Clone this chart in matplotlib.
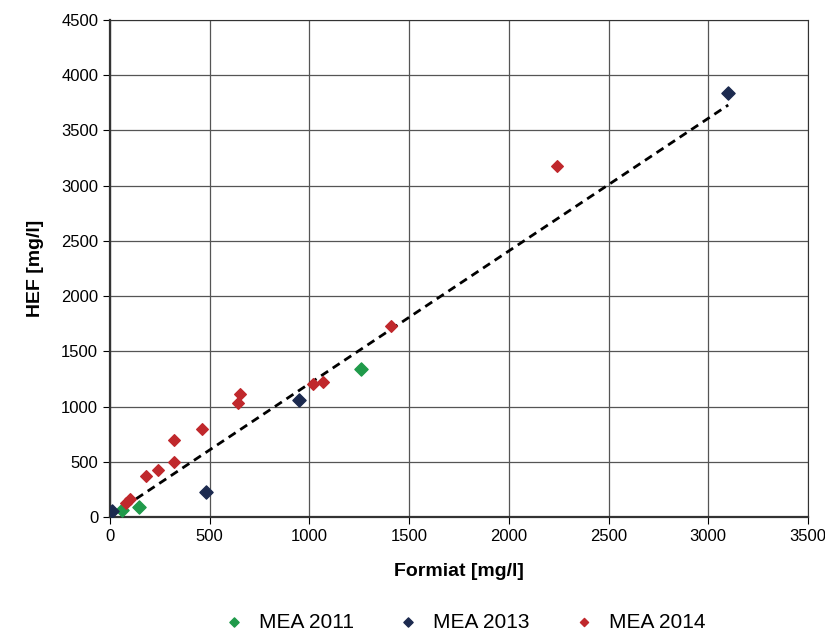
import numpy as np
import matplotlib
matplotlib.use("Agg")
import matplotlib.pyplot as plt

plt.rcParams['font.family'] = ['Liberation Sans', 'DejaVu Sans']

# data
x_2011 = [60, 145, 1258]
y_2011 = [65, 95, 1340]
x_2013 = [10, 480, 950, 3100]
y_2013 = [50, 230, 1060, 3840]
x_2014 = [80, 100, 180, 240, 320, 320, 460, 640, 650, 1020, 1070, 1410, 2240]
y_2014 = [130, 160, 370, 430, 500, 700, 800, 1030, 1110, 1200, 1220, 1730, 3180]

# trend line end points
trend_x = [15, 3100]
trend_y = [25, 3730]

fig = plt.figure(figsize=(8.25, 6.33), dpi=100)
ax = fig.add_axes([110/825, 1 - 517/633, 698/825, 497/633])

ax.scatter(x_2011, y_2011, marker='D', s=45, color='#1f9a4a', label='MEA 2011', zorder=3)
ax.scatter(x_2013, y_2013, marker='D', s=45, color='#1c2a4f', label='MEA 2013', zorder=3)
ax.scatter(x_2014, y_2014, marker='D', s=35, color='#c0282c', label='MEA 2014', zorder=3)

ax.plot(trend_x, trend_y, color='black', linestyle=(0, (3, 2)), lw=2, zorder=2)

ax.set_xlim(0, 3500)
ax.set_ylim(0, 4500)
ax.set_xticks(np.arange(0, 3501, 500))
ax.set_yticks(np.arange(0, 4501, 500))
ax.grid(True, color='#555555', lw=0.9)
ax.set_axisbelow(True)
for s in ax.spines.values():
    s.set_color('#333333')
ax.spines['left'].set_linewidth(1.6)
ax.spines['bottom'].set_linewidth(1.6)
ax.tick_params(labelsize=12, length=5, direction='out')

ax.set_xlabel('Formiat [mg/l]', fontsize=14, fontweight='bold', labelpad=14)
ax.set_ylabel('HEF [mg/l]', fontsize=14, fontweight='bold', labelpad=12)

ax.legend(loc='upper center', bbox_to_anchor=(0.5, -0.155), ncol=3, frameon=False,
          fontsize=15, handletextpad=0.2, columnspacing=1.6, markerscale=0.7)

fig.savefig('out.png', dpi=100)
